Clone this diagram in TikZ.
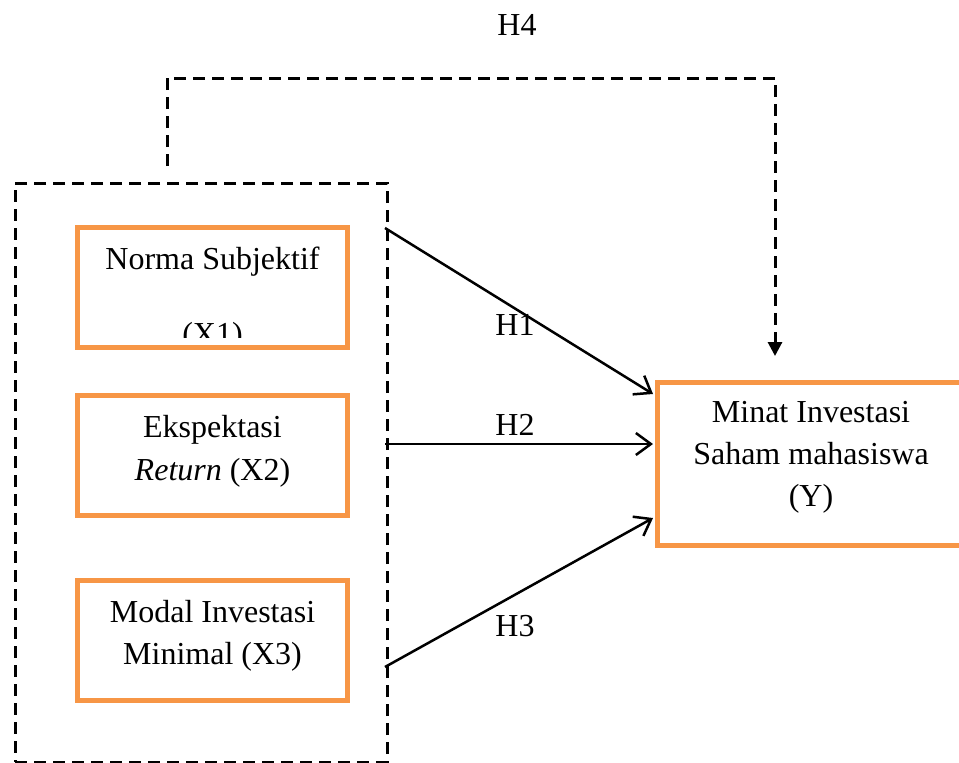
\documentclass[tikz,border=0pt]{standalone}
\usepackage{fontspec}
\setmainfont{Liberation Serif}
\usetikzlibrary{arrows.meta}
\definecolor{boxorange}{HTML}{F79646}
\begin{document}
\begin{tikzpicture}[x=1pt,y=-1pt,
  varbox/.style={draw=boxorange, line width=5pt, inner sep=0pt, minimum width=270pt, minimum height=120pt},
  grpbox/.style={draw, line width=3pt, dash pattern=on 12pt off 7pt, inner sep=0pt},
  lbl/.style={anchor=base, inner sep=0pt, font=\fontsize{32}{38}\selectfont},
  solidarrow/.style={line width=2.5pt, -{Straight Barb[length=15pt,width=22pt]}},
  dasharrow/.style={line width=3pt, dash pattern=on 12pt off 7pt, -{Triangle[length=14pt,width=14pt]}}]
\useasboundingbox (0,0) rectangle (959,763);
% group box
\node[grpbox, minimum width=372pt, minimum height=579pt] (grp) at (201,472.5) {};
% variable boxes
\node[varbox] (x1) at (212.5,287.5) {};
\node[varbox] (x2) at (212.5,455) {};
\node[varbox] (x3) at (212.5,640.5) {};
\node[varbox, minimum width=340pt, minimum height=163pt] (y) at (827.5,464) {};
% texts
\node[lbl] (t1a) at (212.5,269) {Norma Subjektif};
\begin{scope}
\clip (60,200) rectangle (360,337);
\node[lbl] (t1b) at (212.5,344) {(X1)};
\end{scope}
\node[lbl] (t2a) at (212.5,437) {Ekspektasi};
\node[lbl] (t2b) at (212.5,480) {\textit{Return} (X2)};
\node[lbl] (t3a) at (212.5,622) {Modal Investasi};
\node[lbl] (t3b) at (212.5,664) {Minimal (X3)};
\node[lbl] (tya) at (811,422) {Minat Investasi};
\node[lbl] (tyb) at (811,464) {Saham mahasiswa};
\node[lbl] (tyc) at (811,506) {(Y)};
% hypothesis labels
\node[lbl] (h1) at (515,335) {H1};
\node[lbl] (h2) at (515,435) {H2};
\node[lbl] (h3) at (515,636) {H3};
\node[lbl] (h4) at (517,35) {H4};
% connector endpoints
\coordinate (s1) at (385,228);
\coordinate (e1) at (653,394);
\coordinate (s2) at (385,444);
\coordinate (e2) at (653,444);
\coordinate (s3) at (385,667);
\coordinate (e3) at (653,518);
\coordinate (h4s) at (167,166);
\coordinate (h4top) at (775,78);
\coordinate (h4e) at (775,356);
\draw[solidarrow] (s1) -- (e1);
\draw[solidarrow] (s2) -- (e2);
\draw[solidarrow] (s3) -- (e3);
\draw[dasharrow] (h4s) -- (h4s |- h4top) -- (h4top) -- (h4e);
\end{tikzpicture}
\end{document}
